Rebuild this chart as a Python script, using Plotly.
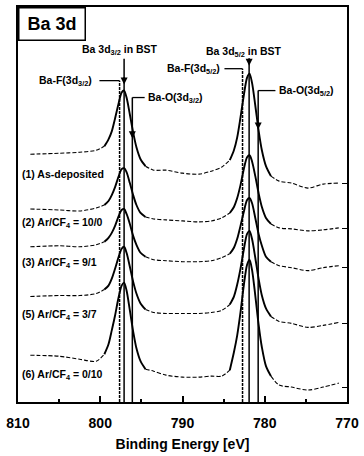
import plotly.graph_objects as go

# ---------------- data ----------------
energy = [808.5, 805.0, 802.5, 800.5, 799.5, 799.0, 798.6, 798.2, 797.8, 797.4,
          797.1, 796.8, 796.4, 796.0, 795.6, 795.1, 794.5, 793.5, 792.0, 790.0,
          788.0, 786.5, 785.25, 784.25, 783.75, 783.35, 782.95, 782.55, 782.15, 781.85,
          781.55, 781.15, 780.75, 780.35, 779.85, 779.25, 778.25, 776.75, 774.75, 772.9,
          771.0]

# intensities (arbitrary units, stacked with offsets as in the figure)
spec_1 = [249, 250, 251, 253, 257, 264, 272, 285, 299, 311,
          313, 306, 289, 271, 256, 244, 237, 233, 233, 230,
          229, 232, 236, 243, 253, 266, 286, 308, 326, 330,
          321, 298, 273, 253, 237, 227, 222, 220, 215, 219,
          220]
spec_2 = [194, 193, 192, 195, 198, 202, 208, 216, 226, 234,
          235, 231, 220, 208, 198, 190, 186, 184, 183, 182,
          181, 182, 185, 190, 196, 205, 218, 234, 246, 248,
          242, 227, 210, 196, 185, 179, 175, 174, 172, 173,
          175]
spec_3 = [156, 157, 156, 158, 161, 165, 170, 177, 186, 193,
          194, 189, 179, 167, 158, 150, 146, 143, 142, 141,
          141, 142, 145, 149, 155, 164, 177, 191, 203, 205,
          200, 185, 169, 157, 146, 141, 137, 135, 132, 135,
          137]
spec_5 = [106, 107, 107, 109, 113, 117, 124, 134, 145, 154,
          156, 150, 136, 121, 109, 99, 93, 90, 89, 89,
          89, 90, 92, 98, 106, 118, 134, 153, 169, 172,
          164, 145, 124, 107, 94, 86, 81, 79, 75, 77,
          80]
spec_6 = [47, 46, 43, 41, 48, 58, 72, 87, 104, 117,
          120, 112, 92, 71, 54, 41, 33, 31, 27, 25,
          25, 26, 26, 32, 50, 67, 90, 117, 138, 143,
          133, 107, 78, 55, 36, 26, 17, 15, 12, 15,
          19]

sample_labels = ["(1) As-deposited",
                 "(2) Ar/CF<sub>4</sub> = 10/0",
                 "(3) Ar/CF<sub>4</sub> = 9/1",
                 "(5) Ar/CF<sub>4</sub> = 3/7",
                 "(6) Ar/CF<sub>4</sub> = 0/10"]

ref_names = ["Ba-F(3d<sub>3/2</sub>)", "Ba 3d<sub>3/2</sub> in BST", "Ba-O(3d<sub>3/2</sub>)",
             "Ba-F(3d<sub>5/2</sub>)", "Ba 3d<sub>5/2</sub> in BST", "Ba-O(3d<sub>5/2</sub>)"]
ref_energy = [797.65, 797.1, 796.1, 782.7, 781.9, 780.8]

x_ticks = [810, 800, 790, 780, 770]
x_minor = [805, 795, 785, 775]

# ---------------- figure ----------------
spectra = [spec_1, spec_2, spec_3, spec_5, spec_6]
FONT = "Liberation Sans, Arial, Helvetica, sans-serif"
solid_ranges = [(794.8, 799.8), (779.4, 784.6)]

def split(xs, ys):
    flags = [any(lo <= x <= hi for lo, hi in solid_ranges) for x in xs]
    out, start = [], 0
    for i in range(1, len(xs) + 1):
        if i == len(xs) or flags[i] != flags[start]:
            end = min(i, len(xs) - 1)
            out.append((flags[start], xs[start:end + 1], ys[start:end + 1]))
            start = i
    return out

fig = go.Figure()
for s in spectra:
    for solid, xs, ys in split(energy, s):
        fig.add_trace(go.Scatter(
            x=xs, y=ys, mode="lines", hoverinfo="skip",
            line=dict(color="black", width=1.9 if solid else 1.1,
                      dash="solid" if solid else "4px,2px",
                      shape="spline", smoothing=0.8)))

# right-edge baseline ticks
right_marks = [s[37] for s in spectra]
fig.add_trace(go.Scatter(x=[770], y=[0], yaxis="y2", mode="markers",
                         marker=dict(opacity=0), hoverinfo="skip"))

shapes, annos = [], []
lbl_y = [229, 180, 140, 87, 27]
for txt, yy in zip(sample_labels, lbl_y):
    annos.append(dict(x=809.75, y=yy, xref="x", yref="y", text=txt, showarrow=False,
                      xanchor="left", yanchor="middle",
                      font=dict(size=10.5, family=FONT, color="black", weight="bold")))

v_top = [323, 345, 306, 335, 345, 313]
v_dash = ["3px,1px", "solid", "solid", "3px,1px", "solid", "solid"]
for e, top, d in zip(ref_energy, v_top, v_dash):
    shapes.append(dict(type="line", xref="x", yref="y", x0=e, x1=e, y0=0, y1=top,
                       line=dict(color="black", width=1.5, dash=d)))

shapes.append(dict(type="line", xref="x", yref="y", x0=800.1, x1=ref_energy[0], y0=323, y1=323,
                   line=dict(color="black", width=1.3)))
shapes.append(dict(type="line", xref="x", yref="y", x0=ref_energy[2], x1=794.6, y0=306, y1=306,
                   line=dict(color="black", width=1.3)))
shapes.append(dict(type="line", xref="x", yref="y", x0=784.9, x1=ref_energy[3], y0=335, y1=335,
                   line=dict(color="black", width=1.3)))
shapes.append(dict(type="line", xref="x", yref="y", x0=ref_energy[5], x1=778.7, y0=313, y1=313,
                   line=dict(color="black", width=1.3)))

lab_font = dict(size=10.5, family=FONT, color="black", weight="bold")
annos += [
    dict(x=800.75, y=323, text=ref_names[0], xanchor="right", yanchor="middle"),
    dict(x=797.6, y=354, text=ref_names[1], xanchor="center", yanchor="middle"),
    dict(x=794.4, y=306, text=ref_names[2], xanchor="left", yanchor="middle"),
    dict(x=785.25, y=335, text=ref_names[3], xanchor="right", yanchor="middle"),
    dict(x=782.5, y=352, text=ref_names[4], xanchor="center", yanchor="middle"),
    dict(x=778.5, y=313, text=ref_names[5], xanchor="left", yanchor="middle"),
]
for a in annos[-6:]:
    a.update(xref="x", yref="y", showarrow=False, font=lab_font)

for e, tip in [(ref_energy[1], 319), (ref_energy[4], 338), (ref_energy[2], 265), (ref_energy[5], 274)]:
    annos.append(dict(x=e, y=tip, xref="x", yref="y", text="", showarrow=True,
                      arrowhead=2, arrowsize=1, arrowwidth=1.4, arrowcolor="black",
                      ax=0, ay=-9))

annos.append(dict(x=0, y=1, xref="paper", yref="paper", xanchor="left", yanchor="top",
                  text="Ba 3d", showarrow=False, bgcolor="white", bordercolor="black",
                  borderwidth=1.5, width=65, height=31, borderpad=0,
                  font=dict(size=18, family=FONT, color="black", weight="bold")))

fig.update_layout(
    width=364, height=456,
    margin=dict(l=18, r=13, t=5, b=54),
    paper_bgcolor="white", plot_bgcolor="white",
    showlegend=False,
    font=dict(family=FONT, color="black"),
    shapes=shapes, annotations=annos,
    xaxis=dict(range=[810, 770], autorange=False, tickvals=x_ticks,
               ticktext=[str(t) for t in x_ticks],
               ticks="inside", ticklen=6, tickwidth=1.5, tickcolor="black",
               ticklabelstandoff=7,
               minor=dict(tickvals=x_minor, ticks="inside", ticklen=3, tickwidth=1.5, tickcolor="black"),
               showline=True, linewidth=2, linecolor="black", mirror=True,
               showgrid=False, zeroline=False,
               tickfont=dict(size=14, family=FONT, color="black", weight="bold"),
               title=dict(text="Binding Energy [eV]", standoff=9,
                          font=dict(size=14, family=FONT, color="black", weight="bold"))),
    yaxis=dict(range=[0, 397], autorange=False, showticklabels=False, ticks="",
               showline=True, linewidth=2, linecolor="black", mirror=True,
               showgrid=False, zeroline=False),
    yaxis2=dict(range=[0, 397], autorange=False, overlaying="y", side="right",
                tickvals=right_marks, ticks="inside", ticklen=5, tickwidth=1.2,
                tickcolor="black", showticklabels=False, showgrid=False,
                zeroline=False, showline=False),
)

fig.write_html("out.html")
